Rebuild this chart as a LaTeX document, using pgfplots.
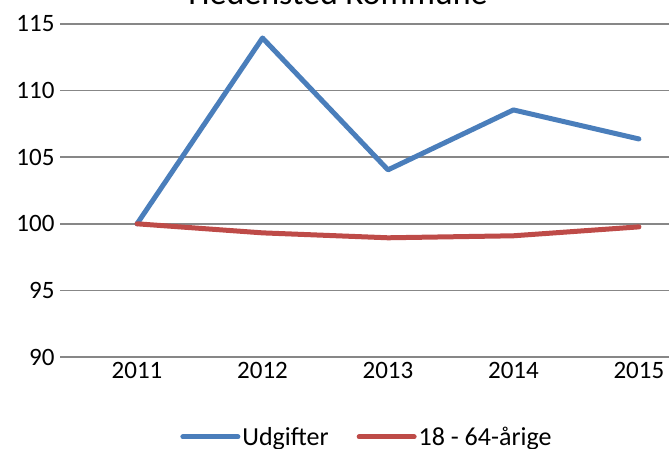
\documentclass[border=0pt]{standalone}
\usepackage{pgfplots}
\pgfplotsset{compat=1.18}
\usepackage{fontspec}
\setmainfont{Carlito}
\definecolor{xblue}{HTML}{4A7EBB}
\definecolor{xred}{HTML}{BE4B48}
\definecolor{xgrid}{HTML}{878787}
\begin{document}
\begin{tikzpicture}
\begin{axis}[
  at={(60pt,91pt)}, anchor=south west,
  scale only axis, width=609pt, height=333pt,
  xmin=-0.614, xmax=4.24, ymin=90, ymax=115,
  xtick={0,1,2,3,4}, xticklabels={2011,2012,2013,2014,2015},
  ytick={90,95,100,105,110,115},
  /pgf/number format/assume math mode=true,
  ticklabel style={font=\fontsize{25}{30}\selectfont},
  yticklabel style={xshift=-2pt},
  xticklabel style={yshift=-2pt},
  major tick length=0pt,
  axis line style={draw=none},
  ymajorgrids, grid style={xgrid, line width=1.6pt},
  clip=false,
  legend columns=2,
  legend style={at={(axis description cs:0.504,-0.24)}, anchor=center, draw=none, fill=none,
    font=\fontsize{26}{30}\selectfont, column sep=0pt,
    /tikz/every even column/.append style={column sep=26pt}},
  legend image code/.code={\draw[#1, line cap=round] (0pt,0pt) -- (55pt,0pt);},
]
\addplot[xblue, line width=5pt, line cap=round, line join=round] coordinates {(0,100) (1,113.95) (2,104.05) (3,108.55) (4,106.37)};
\addlegendentry{Udgifter}
\addplot[xred, line width=5pt, line cap=round, line join=round] coordinates {(0,100) (1,99.32) (2,98.95) (3,99.1) (4,99.77)};
\addlegendentry{18 - 64-årige}
\end{axis}
\node[anchor=base, font=\fontsize{34}{40}\selectfont] at (338pt,443pt) {Hedensted Kommune};
\pgfresetboundingbox
\useasboundingbox (0,0) rectangle (669pt,448pt);
\end{tikzpicture}
\end{document}
